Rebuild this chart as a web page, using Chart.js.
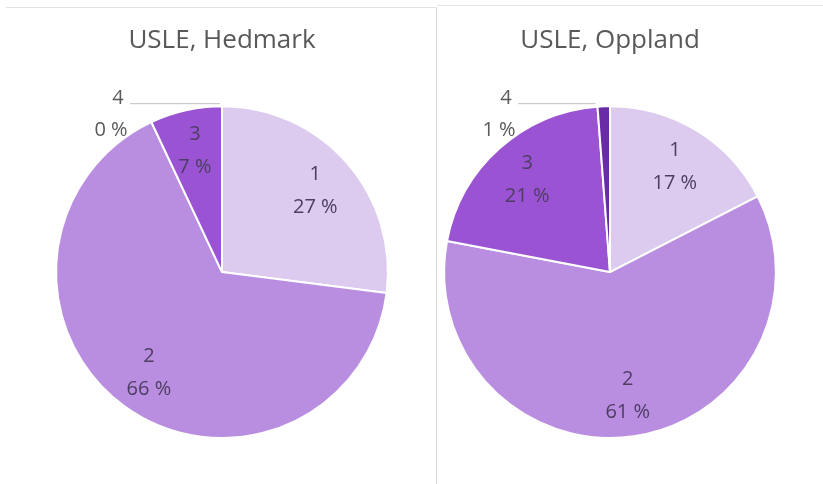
<!DOCTYPE html>
<html>
<head>
<meta charset="utf-8">
<script src="https://cdn.jsdelivr.net/npm/chart.js@4"></script>
<style>
  body { margin: 0; background: #fff; width: 823px; height: 484px; overflow: hidden; position: relative; }
  .panel { position: absolute; }
  #left { left: 6px; top: 7px; width: 430px; height: 477px; border-top: 1px solid #e3e3e3; border-right: 1px solid #dadada; }
  #right { left: 437px; top: 5px; width: 386px; height: 479px; border-top: 1px solid #e3e3e3; }
  canvas { position: absolute; left: 0; }
</style>
</head>
<body>
<div class="panel" id="left"><canvas id="hedmark" width="430" height="476" style="top:0"></canvas></div>
<div class="panel" id="right"><canvas id="oppland" width="386" height="476" style="top:2px"></canvas></div>
<script>
// kategorier (klasse 1-4) og andeler i prosent
const categories = ["1", "2", "3", "4"];
const hedmarkValues = [27, 66, 7, 0];
const opplandValues = [17.45, 60.55, 20.8, 1.2];
const titles = ["USLE, Hedmark", "USLE, Oppland"];
const sliceColors = ["#dccbee", "#b98ee0", "#9a54d3", "#6a2ca6"];

// egne dataetiketter: "kategori" over "xx %"
const pieLabels = {
  id: "pieLabels",
  afterDatasetsDraw(chart) {
    const ctx = chart.ctx;
    const meta = chart.getDatasetMeta(0);
    const data = chart.data.datasets[0].data;
    const total = data.reduce((a, b) => a + b, 0);
    ctx.save();
    ctx.font = "20px 'Open Sans'";
    ctx.textAlign = "center";
    ctx.textBaseline = "middle";
    meta.data.forEach((arc, i) => {
      const p = arc.getProps(["x", "y", "startAngle", "endAngle", "outerRadius"], true);
      const pct = Math.round(data[i] / total * 100) + " %";
      const mid = (p.startAngle + p.endAngle) / 2;
      if (data[i] < 2) {
        // liten sektor: etikett utenfor med strek
        const ax = p.x + Math.cos(p.startAngle) * p.outerRadius;
        const top = p.y - p.outerRadius;
        ctx.fillStyle = "#595959";
        ctx.fillText(chart.data.labels[i], p.x - 104, top - 8);
        ctx.fillText(pct, p.x - 111, top + 24);
        ctx.strokeStyle = "#bfbfbf";
        ctx.lineWidth = 1;
        ctx.beginPath();
        ctx.moveTo(p.x - 92, top - 2.5);
        ctx.lineTo(ax - 2, top - 2.5);
        ctx.stroke();
      } else {
        const r = p.outerRadius * 0.75;
        const x = p.x + Math.cos(mid) * r;
        const y = p.y + Math.sin(mid) * r;
        ctx.fillStyle = "#4d3d63";
        ctx.fillText(chart.data.labels[i], x, y - 16);
        ctx.fillText(pct, x, y + 17);
      }
    });
    ctx.restore();
  }
};

function makePie(id, values, title, padding) {
  new Chart(document.getElementById(id), {
    type: "pie",
    data: {
      labels: categories,
      datasets: [{
        data: values,
        backgroundColor: sliceColors,
        borderColor: "#ffffff",
        borderWidth: 2
      }]
    },
    options: {
      responsive: false,
      animation: false,
      layout: { padding: padding },
      plugins: {
        legend: { display: false },
        tooltip: { enabled: false },
        title: {
          display: true,
          text: title,
          color: "#595959",
          font: { family: "'Open Sans'", size: 26, weight: "normal" },
          padding: { top: 17, bottom: 49 }
        }
      }
    },
    plugins: [pieLabels]
  });
}

makePie("hedmark", hedmarkValues, titles[0], { left: 2, right: 0, top: 0, bottom: 45 });
makePie("oppland", opplandValues, titles[1], { left: 0, right: 40, top: 0, bottom: 45 });
</script>
</body>
</html>
